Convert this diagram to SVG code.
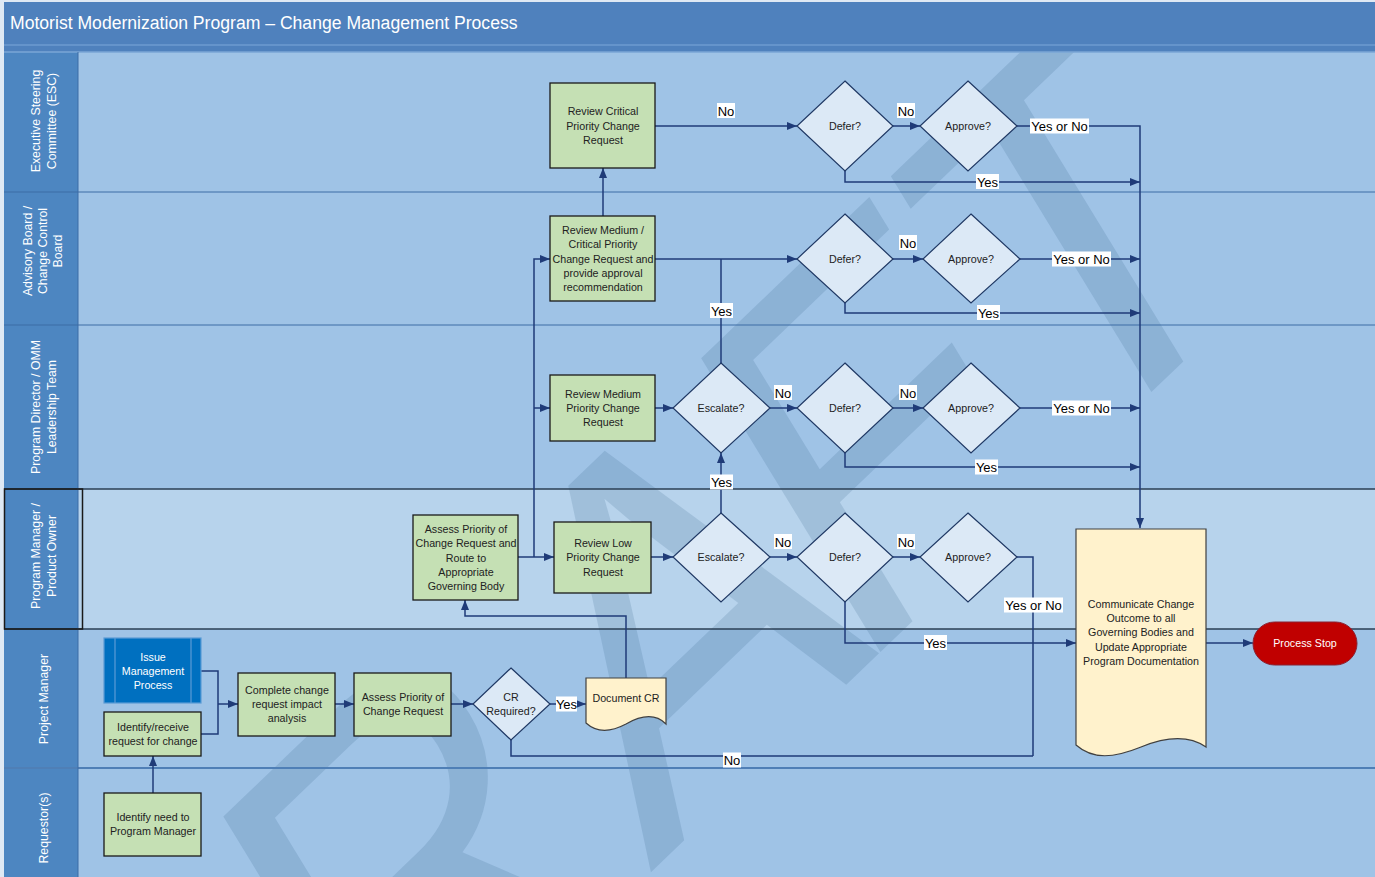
<svg xmlns="http://www.w3.org/2000/svg" width="1375" height="877" viewBox="0 0 1375 877">
<style>
.lane{fill:#9fc3e6}
.lanePO{fill:#b7d3ec}
.lbl{fill:#4d86c1}
.lt{font-family:"Liberation Sans",Arial,sans-serif;font-size:12.3px;fill:#ffffff;text-anchor:middle}
.box{fill:#c5e0b4;stroke:#1a1a1a;stroke-width:1.3}
.dia{fill:#dce9f6;stroke:#1f3864;stroke-width:1.2}
.doc{fill:#fff2cc;stroke:#404040;stroke-width:1.2}
.nt{font-family:"Liberation Sans",Arial,sans-serif;font-size:10.7px;fill:#222222;text-anchor:middle}
.wt{font-family:"Liberation Sans",Arial,sans-serif;font-size:10.7px;fill:#ffffff;text-anchor:middle}
.cn{fill:none;stroke:#1f3b78;stroke-width:1.5}
.cl{font-family:"Liberation Sans",Arial,sans-serif;font-size:13px;fill:#000000;text-anchor:middle}
.clb{fill:#ffffff}
</style>
<defs>
<marker id="ah" markerUnits="userSpaceOnUse" markerWidth="10" markerHeight="8" refX="10" refY="4" orient="auto">
<path d="M0,0 L10,4 L0,8 z" fill="#1f3b78"/>
</marker>
<clipPath id="content"><rect x="78" y="52" width="1297" height="825"/></clipPath>
</defs>
<rect x="0" y="0" width="1375" height="877" fill="#dfe9f4"/>
<g id="header">
<rect x="4" y="2" width="1371" height="50" fill="#4f81bd"/>
<line x1="4" y1="45" x2="1375" y2="45" stroke="#6d9bd1" stroke-width="1.5"/>
<text x="10" y="29" font-family="'Liberation Sans',Arial,sans-serif" font-size="17.6" fill="#ffffff">Motorist Modernization Program – Change Management Process</text>
</g>
<g id="lanes">
<rect class="lane" x="78" y="52" width="1297" height="140"/>
<rect class="lane" x="78" y="192" width="1297" height="133"/>
<rect class="lane" x="78" y="325" width="1297" height="164"/>
<rect class="lanePO" x="78" y="489" width="1297" height="140"/>
<rect class="lane" x="78" y="629" width="1297" height="139"/>
<rect class="lane" x="78" y="768" width="1297" height="109"/>
<rect class="lbl" x="4" y="52" width="74" height="825"/>
</g>
<g id="watermark" clip-path="url(#content)">
<text transform="matrix(3.44,-3.3,2.605,4.27,126,1375.7)" x="0 72.2 152.4 211.1 272.2" y="0" font-family="'Liberation Sans',Arial,sans-serif" font-size="100" fill="#1f4e79" fill-opacity="0.15">DRAFT</text>
</g>
<g id="lanelines">
<line x1="4" y1="52" x2="1375" y2="52" stroke="#7aa6d6" stroke-width="1.5"/>
<line x1="4" y1="192" x2="1375" y2="192" stroke="#3d6da5" stroke-width="1"/>
<line x1="4" y1="325" x2="1375" y2="325" stroke="#3d6da5" stroke-width="1"/>
<line x1="4" y1="489" x2="1375" y2="489" stroke="#2b3f55" stroke-width="1.5"/>
<line x1="4" y1="629" x2="1375" y2="629" stroke="#2b3f55" stroke-width="1.5"/>
<line x1="4" y1="768" x2="1375" y2="768" stroke="#4f7fb6" stroke-width="2"/>
<line x1="78" y1="52" x2="78" y2="877" stroke="#3d6da5" stroke-width="1"/>
<rect x="4.5" y="489" width="78" height="140" fill="none" stroke="#1a1a1a" stroke-width="1.5"/>
</g>
<g id="lanelabels">
<text class="lt" transform="rotate(-90 40 121)" x="40" y="121">Executive Steering</text>
<text class="lt" transform="rotate(-90 56 121)" x="56" y="121">Committee (ESC)</text>
<text class="lt" transform="rotate(-90 32 251)" x="32" y="251">Advisory Board /</text>
<text class="lt" transform="rotate(-90 47 251)" x="47" y="251">Change Control</text>
<text class="lt" transform="rotate(-90 62 251)" x="62" y="251">Board</text>
<text class="lt" transform="rotate(-90 40 407)" x="40" y="407">Program Director / OMM</text>
<text class="lt" transform="rotate(-90 56 407)" x="56" y="407">Leadership Team</text>
<text class="lt" transform="rotate(-90 40 556)" x="40" y="556">Program Manager /</text>
<text class="lt" transform="rotate(-90 56 556)" x="56" y="556">Product Owner</text>
<text class="lt" transform="rotate(-90 48 699)" x="48" y="699">Project Manager</text>
<text class="lt" transform="rotate(-90 48 828)" x="48" y="828">Requestor(s)</text>
</g>
<g id="connectors">
<polyline class="cn" points="655,126 797,126" marker-end="url(#ah)"/>
<polyline class="cn" points="893,126 920,126" marker-end="url(#ah)"/>
<polyline class="cn" points="1017,126 1140,126 1140,528" marker-end="url(#ah)"/>
<polyline class="cn" points="845,171 845,182 1140,182" marker-end="url(#ah)"/>
<polyline class="cn" points="603,216 603,168" marker-end="url(#ah)"/>
<polyline class="cn" points="655,259 797,259" marker-end="url(#ah)"/>
<polyline class="cn" points="893,259 923,259" marker-end="url(#ah)"/>
<polyline class="cn" points="1020,259 1140,259" marker-end="url(#ah)"/>
<polyline class="cn" points="845,303 845,313 1140,313" marker-end="url(#ah)"/>
<polyline class="cn" points="721,363 721,259"/>
<polyline class="cn" points="534,557 534,259 550,259" marker-end="url(#ah)"/>
<polyline class="cn" points="534,408 550,408" marker-end="url(#ah)"/>
<polyline class="cn" points="655,408 673,408" marker-end="url(#ah)"/>
<polyline class="cn" points="770,408 797,408" marker-end="url(#ah)"/>
<polyline class="cn" points="893,408 923,408" marker-end="url(#ah)"/>
<polyline class="cn" points="1020,408 1140,408" marker-end="url(#ah)"/>
<polyline class="cn" points="845,453 845,467 1140,467" marker-end="url(#ah)"/>
<polyline class="cn" points="518,557 554,557" marker-end="url(#ah)"/>
<polyline class="cn" points="651,557 673,557" marker-end="url(#ah)"/>
<polyline class="cn" points="721,513 721,453" marker-end="url(#ah)"/>
<polyline class="cn" points="770,557 797,557" marker-end="url(#ah)"/>
<polyline class="cn" points="893,557 920,557" marker-end="url(#ah)"/>
<polyline class="cn" points="1017,557 1033,557 1033,756"/>
<polyline class="cn" points="845,602 845,643 1076,643" marker-end="url(#ah)"/>
<polyline class="cn" points="1206,643 1253,643" marker-end="url(#ah)"/>
<polyline class="cn" points="201,671 218,671 218,734 201,734"/>
<polyline class="cn" points="218,704 238,704" marker-end="url(#ah)"/>
<polyline class="cn" points="335,704 354,704" marker-end="url(#ah)"/>
<polyline class="cn" points="451,704 473,704" marker-end="url(#ah)"/>
<polyline class="cn" points="550,704 586,704" marker-end="url(#ah)"/>
<polyline class="cn" points="626,678 626,616 465,616 465,600" marker-end="url(#ah)"/>
<polyline class="cn" points="511,740 511,756 1033,756"/>
<polyline class="cn" points="153,793 153,756" marker-end="url(#ah)"/>
</g>
<g id="n_review_critical">
<rect class="box" x="550" y="83" width="105" height="85"/>
<text class="nt" x="603" y="115">Review Critical</text>
<text class="nt" x="603" y="130">Priority Change</text>
<text class="nt" x="603" y="144">Request</text>
</g>
<g id="n_defer1"><polygon class="dia" points="845,81 893,126 845,171 797,126"/><text class="nt" x="845" y="130">Defer?</text></g>
<g id="n_approve1"><polygon class="dia" points="968,81 1017,126 968,171 920,126"/><text class="nt" x="968" y="130">Approve?</text></g>
<g id="n_review_medcrit">
<rect class="box" x="550" y="216" width="105" height="85"/>
<text class="nt" x="603" y="234">Review Medium /</text>
<text class="nt" x="603" y="248">Critical Priority</text>
<text class="nt" x="603" y="263">Change Request and</text>
<text class="nt" x="603" y="277">provide approval</text>
<text class="nt" x="603" y="291">recommendation</text>
</g>
<g id="n_defer2"><polygon class="dia" points="845,214 893,259 845,303 797,259"/><text class="nt" x="845" y="263">Defer?</text></g>
<g id="n_approve2"><polygon class="dia" points="971,214 1020,259 971,303 923,259"/><text class="nt" x="971" y="263">Approve?</text></g>
<g id="n_review_medium">
<rect class="box" x="550" y="375" width="105" height="66"/>
<text class="nt" x="603" y="398">Review Medium</text>
<text class="nt" x="603" y="412">Priority Change</text>
<text class="nt" x="603" y="426">Request</text>
</g>
<g id="n_escalate1"><polygon class="dia" points="721,363 770,408 721,453 673,408"/><text class="nt" x="721" y="412">Escalate?</text></g>
<g id="n_defer3"><polygon class="dia" points="845,363 893,408 845,453 797,408"/><text class="nt" x="845" y="412">Defer?</text></g>
<g id="n_approve3"><polygon class="dia" points="971,363 1020,408 971,453 923,408"/><text class="nt" x="971" y="412">Approve?</text></g>
<g id="n_assess_route">
<rect class="box" x="413" y="515" width="105" height="85"/>
<text class="nt" x="466" y="533">Assess Priority of</text>
<text class="nt" x="466" y="547">Change Request and</text>
<text class="nt" x="466" y="562">Route to</text>
<text class="nt" x="466" y="576">Appropriate</text>
<text class="nt" x="466" y="590">Governing Body</text>
</g>
<g id="n_review_low">
<rect class="box" x="554" y="522" width="97" height="71"/>
<text class="nt" x="603" y="547">Review Low</text>
<text class="nt" x="603" y="561">Priority Change</text>
<text class="nt" x="603" y="576">Request</text>
</g>
<g id="n_escalate2"><polygon class="dia" points="721,513 770,557 721,602 673,557"/><text class="nt" x="721" y="561">Escalate?</text></g>
<g id="n_defer4"><polygon class="dia" points="845,513 893,557 845,602 797,557"/><text class="nt" x="845" y="561">Defer?</text></g>
<g id="n_approve4"><polygon class="dia" points="968,513 1017,557 968,602 920,557"/><text class="nt" x="968" y="561">Approve?</text></g>
<g id="n_communicate">
<path class="doc" d="M1076,529 H1206 V747 C1190,736 1168,736 1141,747 C1114,758 1093,760 1076,745 Z"/>
<text class="nt" x="1141" y="608">Communicate Change</text>
<text class="nt" x="1141" y="622">Outcome to all</text>
<text class="nt" x="1141" y="636">Governing Bodies and</text>
<text class="nt" x="1141" y="651">Update Appropriate</text>
<text class="nt" x="1141" y="665">Program Documentation</text>
</g>
<g id="n_process_stop">
<rect x="1253" y="622" width="104" height="43" rx="21.5" fill="#c00000" stroke="#8a2030" stroke-width="1"/>
<text class="wt" x="1305" y="647">Process Stop</text>
</g>
<g id="n_issue_mgmt">
<rect x="104" y="638" width="97" height="65" fill="#0070c0" stroke="#5b9bd5" stroke-width="1.2"/>
<line x1="115" y1="638" x2="115" y2="703" stroke="#5b9bd5" stroke-width="1.2"/>
<line x1="191" y1="638" x2="191" y2="703" stroke="#5b9bd5" stroke-width="1.2"/>
<text class="wt" x="153" y="661">Issue</text>
<text class="wt" x="153" y="675">Management</text>
<text class="wt" x="153" y="689">Process</text>
</g>
<g id="n_identify_receive">
<rect class="box" x="104" y="712" width="97" height="44"/>
<text class="nt" x="153" y="731">Identify/receive</text>
<text class="nt" x="153" y="745">request for change</text>
</g>
<g id="n_complete_analysis">
<rect class="box" x="238" y="673" width="97" height="63"/>
<text class="nt" x="287" y="694">Complete change</text>
<text class="nt" x="287" y="708">request impact</text>
<text class="nt" x="287" y="722">analysis</text>
</g>
<g id="n_assess_priority">
<rect class="box" x="354" y="673" width="97" height="63"/>
<text class="nt" x="403" y="701">Assess Priority of</text>
<text class="nt" x="403" y="715">Change Request</text>
</g>
<g id="n_cr_required"><polygon class="dia" points="511,668 550,704 511,740 473,704"/><text class="nt" x="511" y="701">CR</text><text class="nt" x="511" y="715">Required?</text></g>
<g id="n_document_cr">
<path class="doc" d="M586,678 H666 V724 C655,713 640,716 626,724 C611,732 597,733 586,723 Z"/>
<text class="nt" x="626" y="702">Document CR</text>
</g>
<g id="n_identify_need">
<rect class="box" x="104" y="793" width="97" height="63"/>
<text class="nt" x="153" y="821">Identify need to</text>
<text class="nt" x="153" y="835">Program Manager</text>
</g>
<g id="labels">
<rect class="clb" x="717" y="103" width="18" height="15"/><text class="cl" x="726" y="115.5">No</text>
<rect class="clb" x="897" y="103" width="18" height="15"/><text class="cl" x="906" y="115.5">No</text>
<rect class="clb" x="1030" y="118.5" width="59" height="15"/><text class="cl" x="1059.5" y="131">Yes or No</text>
<rect class="clb" x="976" y="174" width="23" height="15"/><text class="cl" x="987.5" y="186.5">Yes</text>
<rect class="clb" x="899" y="235" width="18" height="15"/><text class="cl" x="908" y="247.5">No</text>
<rect class="clb" x="1052" y="251.5" width="59" height="15"/><text class="cl" x="1081.5" y="264">Yes or No</text>
<rect class="clb" x="977" y="305" width="23" height="15"/><text class="cl" x="988.5" y="317.5">Yes</text>
<rect class="clb" x="710" y="303" width="23" height="15"/><text class="cl" x="721.5" y="315.5">Yes</text>
<rect class="clb" x="774" y="385" width="18" height="15"/><text class="cl" x="783" y="397.5">No</text>
<rect class="clb" x="899" y="385" width="18" height="15"/><text class="cl" x="908" y="397.5">No</text>
<rect class="clb" x="1052" y="400.5" width="59" height="15"/><text class="cl" x="1081.5" y="413">Yes or No</text>
<rect class="clb" x="975" y="459.5" width="23" height="15"/><text class="cl" x="986.5" y="472">Yes</text>
<rect class="clb" x="710" y="474.5" width="23" height="15"/><text class="cl" x="721.5" y="487">Yes</text>
<rect class="clb" x="774" y="534" width="18" height="15"/><text class="cl" x="783" y="546.5">No</text>
<rect class="clb" x="897" y="534" width="18" height="15"/><text class="cl" x="906" y="546.5">No</text>
<rect class="clb" x="1004" y="597.5" width="59" height="15"/><text class="cl" x="1033.5" y="610">Yes or No</text>
<rect class="clb" x="924" y="635" width="23" height="15"/><text class="cl" x="935.5" y="647.5">Yes</text>
<rect class="clb" x="556" y="696.5" width="21" height="15"/><text class="cl" x="566.5" y="709">Yes</text>
<rect class="clb" x="723" y="752.5" width="18" height="15"/><text class="cl" x="732" y="765">No</text>
</g>
</svg>
